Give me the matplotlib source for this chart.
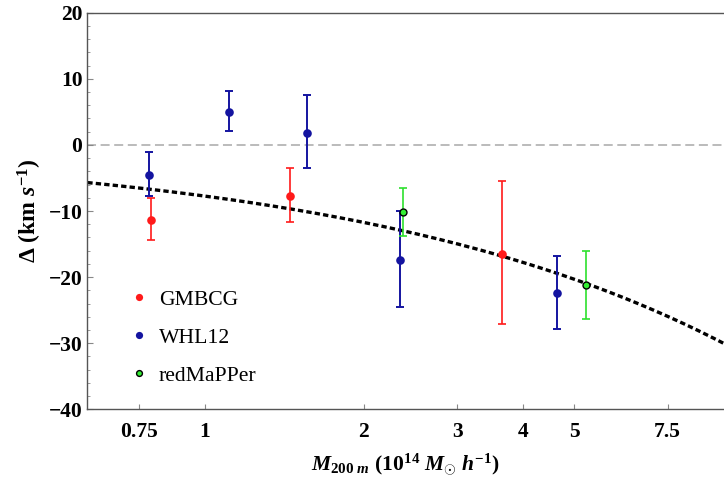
import numpy as np
import matplotlib
matplotlib.use("Agg")
import matplotlib.pyplot as plt
from matplotlib.ticker import FixedLocator, FixedFormatter, MultipleLocator
from matplotlib.lines import Line2D

# --- data: velocity offset vs. cluster mass -------------------------------
gmbcg_mass = [0.793, 1.45, 3.65]
gmbcg_delta = [-11.4, -7.8, -16.5]
gmbcg_err_lo = [3.05, 3.88, 10.6]
gmbcg_err_hi = [3.35, 4.24, 11.0]

whl_mass = [0.784, 1.11, 1.559, 2.343, 4.64]
whl_delta = [-4.57, 4.96, 1.83, -17.43, -22.47]
whl_err_lo = [3.23, 2.87, 5.29, 7.11, 5.40]
whl_err_hi = [3.53, 3.13, 5.70, 7.46, 5.60]

redm_mass = [2.37, 5.27]
redm_delta = [-10.12, -21.16]
redm_err_lo = [3.68, 5.19]
redm_err_hi = [3.53, 5.09]

# model curve: Delta = -amp * M^slope
model_amp = 7.74
model_slope = 0.6

x_ticks = [0.75, 1, 2, 3, 4, 5, 7.5]
x_tick_labels = ["0.75", "1", "2", "3", "4", "5", "7.5"]
y_ticks = [20, 10, 0, -10, -20, -30, -40]

# --- styling ---------------------------------------------------------------
plt.rcParams["font.family"] = ["Liberation Serif", "DejaVu Serif"]
plt.rcParams["mathtext.fontset"] = "custom"
plt.rcParams["mathtext.rm"] = "Liberation Serif:bold"
plt.rcParams["mathtext.bf"] = "Liberation Serif:bold"
plt.rcParams["mathtext.it"] = "Liberation Serif:italic:bold"

RED = "#ff1a1a"
BLUE = "#1414a0"
GREEN = "#33ee33"
GREEN_BAR = "#2ee02e"

fig = plt.figure(figsize=(7.24, 4.80), dpi=100)
ax = fig.add_axes([87.3 / 724, 1 - 409.3 / 480, 1 - 87.3 / 724, (409.3 - 12.7) / 480])

ax.set_xscale("log")
ax.set_xlim(0.6, 9.59)
ax.set_ylim(-40, 20)

# zero reference line
ax.axhline(0, color="#a8a8a8", lw=1.1, dashes=(5.9, 3.0), zorder=1)

# model curve
m = np.logspace(np.log10(0.6), np.log10(9.59), 300)
ax.plot(m, -model_amp * m ** model_slope, color="black", lw=2.4,
        dashes=(1.6, 0.95), zorder=2)


def draw_series(mass, delta, lo, hi, face, bar, ms, edge, ew, lw, z):
    pts, caps, _ = ax.errorbar(mass, delta, yerr=[lo, hi], fmt="o",
                               color=face, ecolor=bar, elinewidth=lw,
                               markersize=ms, capsize=2.6, capthick=lw,
                               zorder=z)
    pts.set_markeredgecolor(edge)
    pts.set_markeredgewidth(ew)
    for c in caps:
        c.set_markeredgewidth(lw)
        c.set_color(bar)


draw_series(whl_mass, whl_delta, whl_err_lo, whl_err_hi,
            BLUE, BLUE, 6.2, BLUE, 0.0, 1.4, 3)
draw_series(gmbcg_mass, gmbcg_delta, gmbcg_err_lo, gmbcg_err_hi,
            RED, RED, 6.2, RED, 0.0, 1.2, 3)
draw_series(redm_mass, redm_delta, redm_err_lo, redm_err_hi,
            GREEN, GREEN_BAR, 5.0, "black", 1.0, 1.2, 4)

# axes, ticks
for side in ["left", "bottom", "top"]:
    ax.spines[side].set_color("#555555")
    ax.spines[side].set_linewidth(1.0)
ax.spines["right"].set_visible(False)

ax.xaxis.set_major_locator(FixedLocator(x_ticks))
ax.xaxis.set_major_formatter(FixedFormatter(x_tick_labels))
ax.xaxis.set_minor_locator(FixedLocator([]))
ax.yaxis.set_major_locator(FixedLocator(y_ticks))
ax.yaxis.set_minor_locator(MultipleLocator(2))

ax.tick_params(axis="both", which="both", direction="in", color="#888888")
ax.tick_params(axis="x", which="major", length=3.5, width=0.8, pad=9,
               labelsize=15.5)
ax.tick_params(axis="y", which="major", length=4, width=0.8, pad=3.5,
               labelsize=15.5)
ax.tick_params(axis="y", which="minor", length=2.2, width=0.6)
ax.tick_params(top=False, right=False, which="both")
for lab in ax.get_xticklabels() + ax.get_yticklabels():
    lab.set_fontweight("bold")

ax.set_xlabel(r"$M_{200\ m}\ \mathrm{(10^{14}}\ M_{\odot}\ h^{-1}\mathrm{)}$",
              fontsize=15.5, labelpad=7)
ax.set_ylabel(r"$\mathbf{\Delta}$ (km $s^{-1}$)", fontsize=17,
              fontweight="bold", labelpad=3)

handles = [
    Line2D([], [], ls="none", marker="o", color=RED, ms=5.2, mew=0),
    Line2D([], [], ls="none", marker="o", color=BLUE, ms=5.2, mew=0),
    Line2D([], [], ls="none", marker="o", color=GREEN, ms=4.2,
           mec="black", mew=1.0),
]
ax.legend(handles, ["GMBCG", "WHL12", "redMaPPer"], loc="center left",
          bbox_to_anchor=(0.064, 0.181), frameon=False, fontsize=15.6,
          handlelength=1.0, handletextpad=0.42, labelspacing=0.82,
          borderpad=0, borderaxespad=0)

fig.savefig("out.png", dpi=100)
